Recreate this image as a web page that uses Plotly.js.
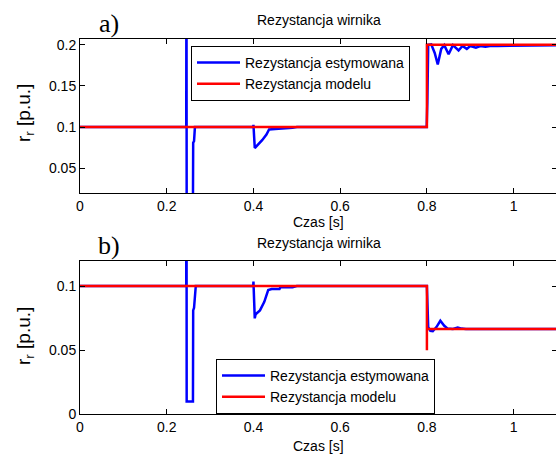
<!DOCTYPE html>
<html>
<head>
<meta charset="utf-8">
<script src="https://cdn.plot.ly/plotly-3.0.1.min.js"></script>
<style>
html,body{margin:0;padding:0;overflow:hidden;background:#fff;width:556px;height:454px;}
#chart{width:560px;height:454px;}
</style>
</head>
<body>
<div id="chart"></div>
<script>
// ---- data ----
const seriesNames = ["Rezystancja estymowana", "Rezystancja modelu"];
const plotTitle = "Rezystancja wirnika";
const xTitle = "Czas [s]";
const yTitle = "r<sub>r</sub> [p.u.]";

const xTicks = [0, 0.2, 0.4, 0.6, 0.8, 1];
const xTickLabels = ["0", "0.2", "0.4", "0.6", "0.8", "1"];
const yTicksA = [0.05, 0.1, 0.15, 0.2];
const yTickLabelsA = ["0.05", "0.1", "0.15", "0.2"];
const yTicksB = [0, 0.05, 0.1];
const yTickLabelsB = ["0", "0.05", "0.1"];

// panel a) estimated resistance
const tEstA = [0, 0.2450, 0.2455, 0.2460, 0.2605, 0.2610, 0.2630, 0.2650, 0.3995, 0.4000, 0.4030, 0.4100, 0.4200, 0.4300, 0.4360, 0.4500, 0.4700, 0.4900, 0.5000, 0.7995, 0.8010, 0.8030, 0.8100, 0.8180, 0.8250, 0.8330, 0.8400, 0.8500, 0.8600, 0.8730, 0.8820, 0.8920, 0.9000, 0.9130, 0.9230, 0.9350, 0.9450, 0.9620, 1.1];
const rEstA = [0.1, 0.1, 0.35, 0.01, 0.01, 0.081, 0.083, 0.1, 0.1, 0.1028, 0.0745, 0.078, 0.084, 0.091, 0.097, 0.0975, 0.098, 0.099, 0.1, 0.1, 0.13, 0.2, 0.2005, 0.19, 0.176, 0.195, 0.1995, 0.1884, 0.1995, 0.193, 0.1985, 0.195, 0.1985, 0.1965, 0.1985, 0.1975, 0.1985, 0.1985, 0.1995];
// panel a) model resistance
const tModA = [0, 0.8, 0.8, 1.1];
const rModA = [0.1, 0.1, 0.2, 0.2];

// panel b) estimated resistance
const tEstB = [0, 0.2450, 0.2455, 0.2460, 0.2605, 0.2610, 0.2630, 0.2670, 0.3995, 0.4000, 0.4030, 0.4050, 0.4150, 0.4250, 0.4340, 0.4420, 0.4600, 0.4620, 0.4900, 0.5000, 0.8000, 0.8015, 0.8030, 0.8080, 0.8135, 0.8220, 0.8310, 0.8400, 0.8480, 0.8600, 0.8710, 0.8800, 0.8900, 1.1];
const rEstB = [0.1, 0.1, 0.3, 0.01, 0.01, 0.081, 0.083, 0.1, 0.1, 0.1034, 0.0748, 0.078, 0.081, 0.0877, 0.0969, 0.0977, 0.0977, 0.099, 0.099, 0.1, 0.1, 0.089, 0.068, 0.065, 0.0648, 0.068, 0.0729, 0.069, 0.0668, 0.0665, 0.0677, 0.0668, 0.0665, 0.0665];
// panel b) model resistance
const tModB = [0, 0.8, 0.8, 0.8, 1.1];
const rModB = [0.1, 0.1, 0.05, 0.0665, 0.0665];

// ---- chart ----
const FONT = "Liberation Sans, Arial, Helvetica, sans-serif";
const SERIF = "Liberation Serif, Times New Roman, serif";
const BLUE = "#0000ff", RED = "#ff0000";
const W = 560, H = 454, L = 80, R = 3;
const px2y = p => 1 - p / H;
const px2x = p => (p - L) / (W - L - R);

const traces = [
  {x: tEstA, y: rEstA, xaxis: "x", yaxis: "y", name: seriesNames[0], mode: "lines",
   line: {color: BLUE, width: 2.5}, legend: "legend"},
  {x: tModA, y: rModA, xaxis: "x", yaxis: "y", name: seriesNames[1], mode: "lines",
   line: {color: RED, width: 2.5}, legend: "legend"},
  {x: tEstB, y: rEstB, xaxis: "x2", yaxis: "y2", name: seriesNames[0], mode: "lines",
   line: {color: BLUE, width: 2.5}, legend: "legend2"},
  {x: tModB, y: rModB, xaxis: "x2", yaxis: "y2", name: seriesNames[1], mode: "lines",
   line: {color: RED, width: 2.5}, legend: "legend2"}
];

const axisCommon = {
  showgrid: false, zeroline: false, showline: true, mirror: "ticks",
  linecolor: "#000", linewidth: 1, ticks: "inside", ticklen: 5, tickwidth: 1,
  tickcolor: "#000", tickfont: {family: FONT, size: 14, color: "#000"}
};

const legendCommon = {xanchor: "left", yanchor: "top", itemwidth: 43,
  bgcolor: "#fff", bordercolor: "#000", borderwidth: 1,
  font: {family: FONT, size: 14, color: "#000"}};

const layout = {
  width: W, height: H,
  margin: {l: L, r: R, t: 0, b: 0, pad: 0},
  paper_bgcolor: "#fff", plot_bgcolor: "#fff",
  font: {family: FONT, size: 14, color: "#000"},
  xaxis: Object.assign({}, axisCommon, {domain: [0, 1], anchor: "y", range: [0, 1.1],
    tickvals: xTicks, ticktext: xTickLabels}),
  yaxis: Object.assign({}, axisCommon, {domain: [px2y(193.3), px2y(39)], anchor: "x",
    range: [0.0195, 0.207], tickvals: yTicksA, ticktext: yTickLabelsA}),
  xaxis2: Object.assign({}, axisCommon, {domain: [0, 1], anchor: "y2", range: [0, 1.1],
    tickvals: xTicks, ticktext: xTickLabels}),
  yaxis2: Object.assign({}, axisCommon, {domain: [px2y(414.3), px2y(261)], anchor: "x2",
    range: [0, 0.1195], tickvals: yTicksB, ticktext: yTickLabelsB}),
  showlegend: true,
  legend: Object.assign({}, legendCommon, {x: px2x(191), y: px2y(46)}),
  legend2: Object.assign({}, legendCommon, {x: px2x(216), y: px2y(359)}),
  annotations: [
    {text: plotTitle, xref: "paper", yref: "paper", x: 0.5, y: px2y(20), xanchor: "center", yanchor: "middle",
     showarrow: false, font: {family: FONT, size: 14, color: "#000"}},
    {text: plotTitle, xref: "paper", yref: "paper", x: 0.5, y: px2y(243), xanchor: "center", yanchor: "middle",
     showarrow: false, font: {family: FONT, size: 14, color: "#000"}},
    {text: "a)", xref: "paper", yref: "paper", x: px2x(109), y: px2y(24), xanchor: "center", yanchor: "middle",
     showarrow: false, font: {family: SERIF, size: 26, color: "#000"}},
    {text: "b)", xref: "paper", yref: "paper", x: px2x(109), y: px2y(245), xanchor: "center", yanchor: "middle",
     showarrow: false, font: {family: SERIF, size: 26, color: "#000"}},
    {text: xTitle, xref: "paper", yref: "paper", x: 0.5, y: px2y(222), xanchor: "center", yanchor: "middle",
     showarrow: false, font: {family: FONT, size: 14, color: "#000"}},
    {text: xTitle, xref: "paper", yref: "paper", x: 0.5, y: px2y(445.5), xanchor: "center", yanchor: "middle",
     showarrow: false, font: {family: FONT, size: 14, color: "#000"}},
    {text: yTitle, xref: "paper", yref: "paper", x: px2x(25), y: px2y(113), xanchor: "center", yanchor: "middle",
     textangle: -90, showarrow: false, font: {family: FONT, size: 19, color: "#000"}},
    {text: yTitle, xref: "paper", yref: "paper", x: px2x(25), y: px2y(336), xanchor: "center", yanchor: "middle",
     textangle: -90, showarrow: false, font: {family: FONT, size: 19, color: "#000"}}
  ]
};

Plotly.newPlot("chart", traces, layout, {displayModeBar: false, staticPlot: true});
</script>
</body>
</html>
